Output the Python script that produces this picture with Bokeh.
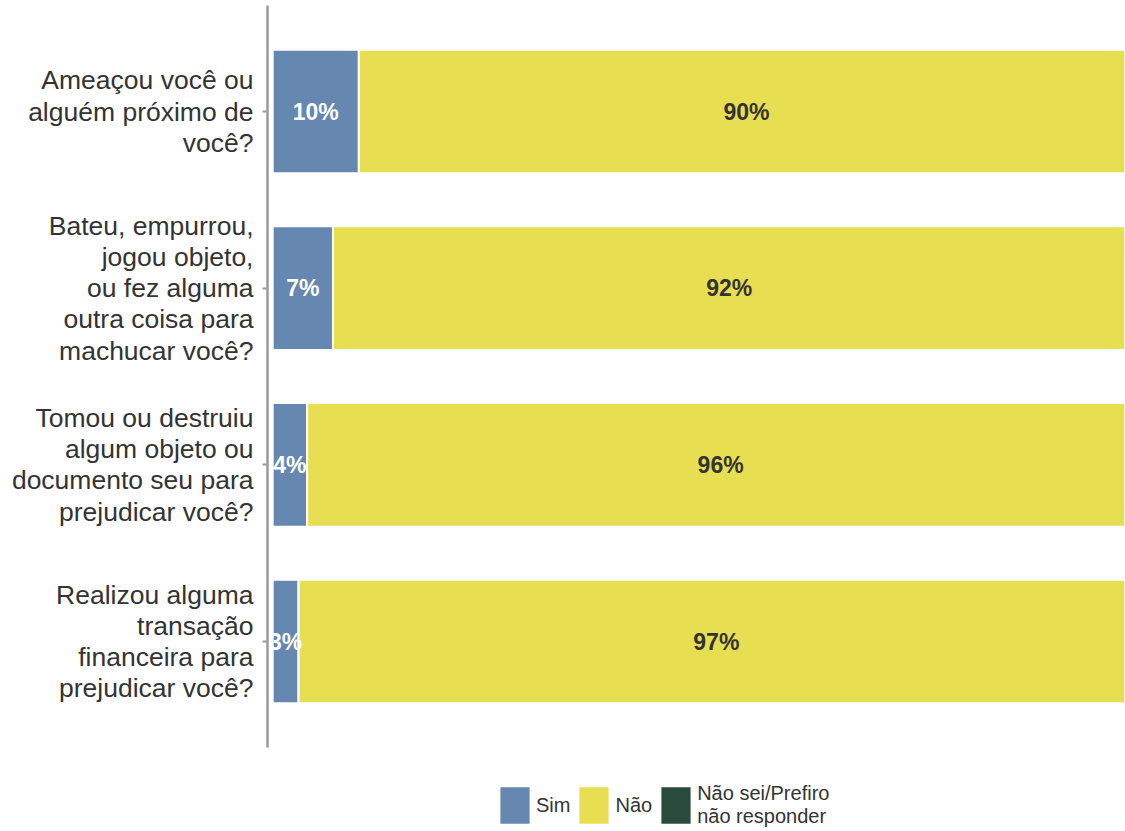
from bokeh.plotting import figure
from bokeh.layouts import column
from bokeh.models import ColumnDataSource, Range1d, FixedTicker, Legend, LegendItem
from bokeh.core.properties import value
from bokeh.embed import file_html
from bokeh.resources import INLINE

# ---- data (top to bottom) ----
questions = [
    "Ameaçou você ou\nalguém próximo de\nvocê?",
    "Bateu, empurrou,\njogou objeto,\nou fez alguma\noutra coisa para\nmachucar você?",
    "Tomou ou destruiu\nalgum objeto ou\ndocumento seu para\nprejudicar você?",
    "Realizou alguma\ntransação\nfinanceira para\nprejudicar você?",
]
sim = [10, 7, 4, 3]
nao = [90, 92, 96, 97]
nao_sei = [0, 1, 0, 0]
series_names = ["Sim", "Não", "Não sei/Prefiro\nnão responder"]
colors = ["#6587B0", "#E8DE52", "#2A4A3E"]

ypos = [len(questions) - i for i in range(len(questions))]

src = ColumnDataSource(dict(y=ypos, sim=sim, nao=nao, nao_sei=nao_sei))

FONT = "Liberation Sans"

p = figure(width=1125, height=757, output_backend="svg", toolbar_location=None,
           x_range=Range1d(-0.6, 99.0), y_range=Range1d(0.4, 4.6),
           min_border_left=267, min_border_right=0, min_border_top=5,
           min_border_bottom=10)
p.outline_line_color = None
p.background_fill_color = "white"
p.border_fill_color = "white"
p.xgrid.visible = False
p.ygrid.visible = False
p.xaxis.visible = False

rs = p.hbar_stack(["sim", "nao", "nao_sei"], y="y", height=0.7, color=colors,
                  line_color="white", line_width=2, source=src)

# labels on bars
lab_x, lab_y, lab_t, lab_c = [], [], [], []
for i in range(len(questions)):
    lab_x.append(sim[i] / 2); lab_y.append(ypos[i]); lab_t.append(f"{sim[i]}%"); lab_c.append("white")
    lab_x.append(sim[i] + nao[i] / 2); lab_y.append(ypos[i]); lab_t.append(f"{nao[i]}%"); lab_c.append("#333333")
lsrc = ColumnDataSource(dict(x=lab_x, y=lab_y, t=lab_t, c=lab_c))
p.text(x="x", y="y", text="t", text_color="c", source=lsrc, text_align="center",
       text_baseline="middle", text_font=value(FONT), text_font_size="23px",
       text_font_style="bold")

yax = p.yaxis[0]
yax.ticker = FixedTicker(ticks=ypos)
yax.major_label_overrides = {y: q for y, q in zip(ypos, questions)}
yax.major_label_text_font = FONT
yax.major_label_text_font_size = "26.5px"
yax.major_label_text_line_height = 1.04
yax.major_label_text_color = "#333333"
yax.major_label_standoff = 9
yax.axis_line_color = "#9A9A9A"
yax.axis_line_width = 2.5
yax.major_tick_line_color = "#9A9A9A"
yax.major_tick_line_width = 2
yax.major_tick_out = 5
yax.major_tick_in = 0
yax.minor_tick_line_color = None

# ---- legend strip below (frame aligned with the main plot's frame) ----
lg = figure(width=1125, height=74, output_backend="svg", toolbar_location=None,
            x_range=Range1d(0, 1), y_range=Range1d(0, 1),
            min_border=0, min_border_left=267, min_border_right=0,
            min_border_top=0, min_border_bottom=0)
lg.outline_line_color = None
lg.axis.visible = False
lg.grid.visible = False
dummies = [lg.hbar(y=[-5], left=[0], right=[1], height=0.5, fill_color=c,
                   line_color="white", line_width=2)
           for c in colors]
legend = Legend(items=[LegendItem(label=n, renderers=[r]) for n, r in zip(series_names, dummies)],
                orientation="horizontal", location=(228, 2),
                glyph_width=39, glyph_height=48, label_standoff=2, spacing=4,
                padding=0, margin=0, border_line_color=None, background_fill_alpha=0,
                label_text_font=FONT, label_text_font_size="20px",
                label_text_color="#333333", label_text_line_height=1.2)
lg.add_layout(legend, "center")

layout = column(p, lg, spacing=0)
open("out.html", "w").write(file_html(layout, INLINE))
